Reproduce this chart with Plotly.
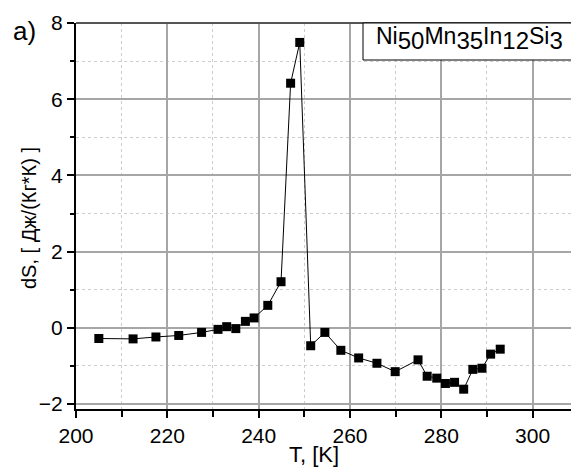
import plotly.graph_objects as go

T = [205.0, 212.5, 217.5, 222.5, 227.5, 231.1, 233.0, 235.0, 237.1, 239.0,
     242.0, 244.9, 247.0, 249.0, 251.4, 254.5, 258.0, 261.9, 265.9, 269.9,
     274.9, 276.9, 279.0, 280.9, 282.9, 284.9, 286.9, 288.9, 290.8, 292.9]
dS = [-0.28, -0.29, -0.24, -0.20, -0.12, -0.04, 0.03, -0.02, 0.17, 0.26,
      0.59, 1.21, 6.42, 7.49, -0.47, -0.12, -0.59, -0.79, -0.93, -1.15,
      -0.84, -1.27, -1.32, -1.46, -1.43, -1.61, -1.09, -1.06, -0.69, -0.56]

W, H = 571, 468
L, R, Tm, B = 76, 0, 23, 59
font = "Liberation Sans, Arial, sans-serif"

fig = go.Figure()
fig.add_trace(go.Scatter(
    x=T, y=dS, mode="lines+markers",
    line=dict(color="black", width=1),
    marker=dict(symbol="square", size=9, color="black"),
    showlegend=False, cliponaxis=False,
))

axis_common = dict(
    showline=True, linecolor="black", linewidth=2,
    ticks="outside", ticklen=7, tickwidth=1.5, tickcolor="black",
    showgrid=True, gridcolor="#a6a6a6", gridwidth=1.5,
    zeroline=False,
    tickfont=dict(family=font, size=21, color="black"),
)

fig.update_xaxes(
    range=[200, 308.4], dtick=20, tick0=200,
    minor=dict(dtick=10, ticks="outside", ticklen=6, tickcolor="black",
               showgrid=True, griddash="dot", gridcolor="#cccccc", gridwidth=1),
    **axis_common,
)
fig.update_yaxes(
    range=[-2.13, 8], dtick=2, tick0=0,
    minor=dict(dtick=1, ticks="outside", ticklen=4, tickcolor="black",
               showgrid=True, griddash="dot", gridcolor="#cccccc", gridwidth=1),
    **axis_common,
)

pw = W - L - R
ph = H - Tm - B

def px(xp):
    return (xp - L) / pw

def py(yp):
    return 1 - (yp - Tm) / ph

# top border
fig.add_shape(type="line", xref="paper", yref="paper", x0=0, x1=1, y0=1, y1=1,
              line=dict(color="#555555", width=2))

fig.add_shape(type="rect", xref="paper", yref="paper", x0=px(363), x1=1.05, y0=py(60), y1=1,
              line=dict(color="black", width=1), fillcolor="white", layer="above")
sub = lambda s: "<sub><span style='font-size:24px'>" + s + "</span></sub>"
fig.add_annotation(xref="paper", yref="paper", x=px(374), y=py(38),
                   xanchor="left", yanchor="middle", showarrow=False,
                   text="Ni" + sub("50") + "Mn" + sub("35") + "In" + sub("12") + "Si" + sub("3"),
                   font=dict(family=font, size=23, color="black"))
fig.add_annotation(xref="paper", yref="paper", x=px(11), y=py(31),
                   xanchor="left", yanchor="middle", showarrow=False,
                   text="a)", font=dict(family=font, size=26, color="black"))
# axis titles
fig.add_annotation(xref="paper", yref="paper", x=px(314), y=py(454),
                   xanchor="center", yanchor="middle", showarrow=False,
                   text="T, [K]", font=dict(family=font, size=22, color="black"))
fig.add_annotation(xref="paper", yref="paper", x=px(29), y=py(218),
                   xanchor="center", yanchor="middle", showarrow=False, textangle=-90,
                   text="dS, [ Дж/(Кг*К) ]", font=dict(family=font, size=20, color="black"))

fig.update_layout(
    width=W, height=H,
    margin=dict(l=L, r=R, t=Tm, b=B),
    paper_bgcolor="white", plot_bgcolor="white",
    font=dict(family=font, color="black"),
)

fig.write_html("out.html")
